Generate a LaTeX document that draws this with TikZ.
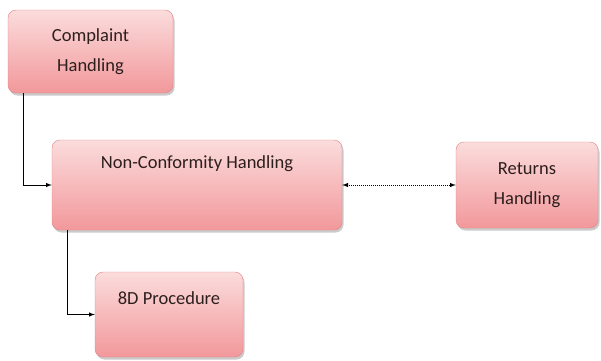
\documentclass[tikz,border=0pt]{standalone}
\usepackage{fontspec}
\setmainfont{Carlito}
\usepackage{xcolor}
\usetikzlibrary{shadows}

\definecolor{boxtop}{RGB}{251,220,220}
\definecolor{boxbottom}{RGB}{242,152,155}
\definecolor{boxline}{RGB}{224,130,132}
\definecolor{boxtext}{RGB}{45,30,30}

\begin{document}
\begin{tikzpicture}[x=1pt,y=-1pt,
box/.style={draw=boxline,rounded corners=8pt,top color=boxtop,bottom color=boxbottom,
  drop shadow={shadow xshift=1.5pt,shadow yshift=-2.5pt,fill=black!45,opacity=0.45},
  inner sep=0pt,align=center,text=boxtext,font=\fontsize{18.5}{30}\selectfont},
conn/.style={draw,line width=1pt,-latex},
dotconn/.style={draw,line width=1pt,densely dotted,latex-latex}]
\useasboundingbox (0,0) rectangle (601,360);
\node[box,minimum width=165pt,minimum height=83pt] (Complaint) at (90.5,51.5) {Complaint\\Handling};
\node[box,minimum width=290pt,text height=28pt,text depth=62pt] (NonConf) at (197,185) {Non-Conformity Handling};
\node[box,minimum width=142pt,minimum height=86pt] (Returns) at (527,185) {Returns\\Handling};
\node[box,minimum width=148pt,text height=32pt,text depth=53pt] (Proc) at (169,314.5) {8D Procedure};
% connectors
\draw[conn] ([xshift=16pt]Complaint.south west) |- (NonConf.west);
\draw[conn] ([xshift=16pt]NonConf.south west) |- (Proc.west);
\draw[dotconn] (NonConf.east) -- (Returns.west);
\end{tikzpicture}
\end{document}
